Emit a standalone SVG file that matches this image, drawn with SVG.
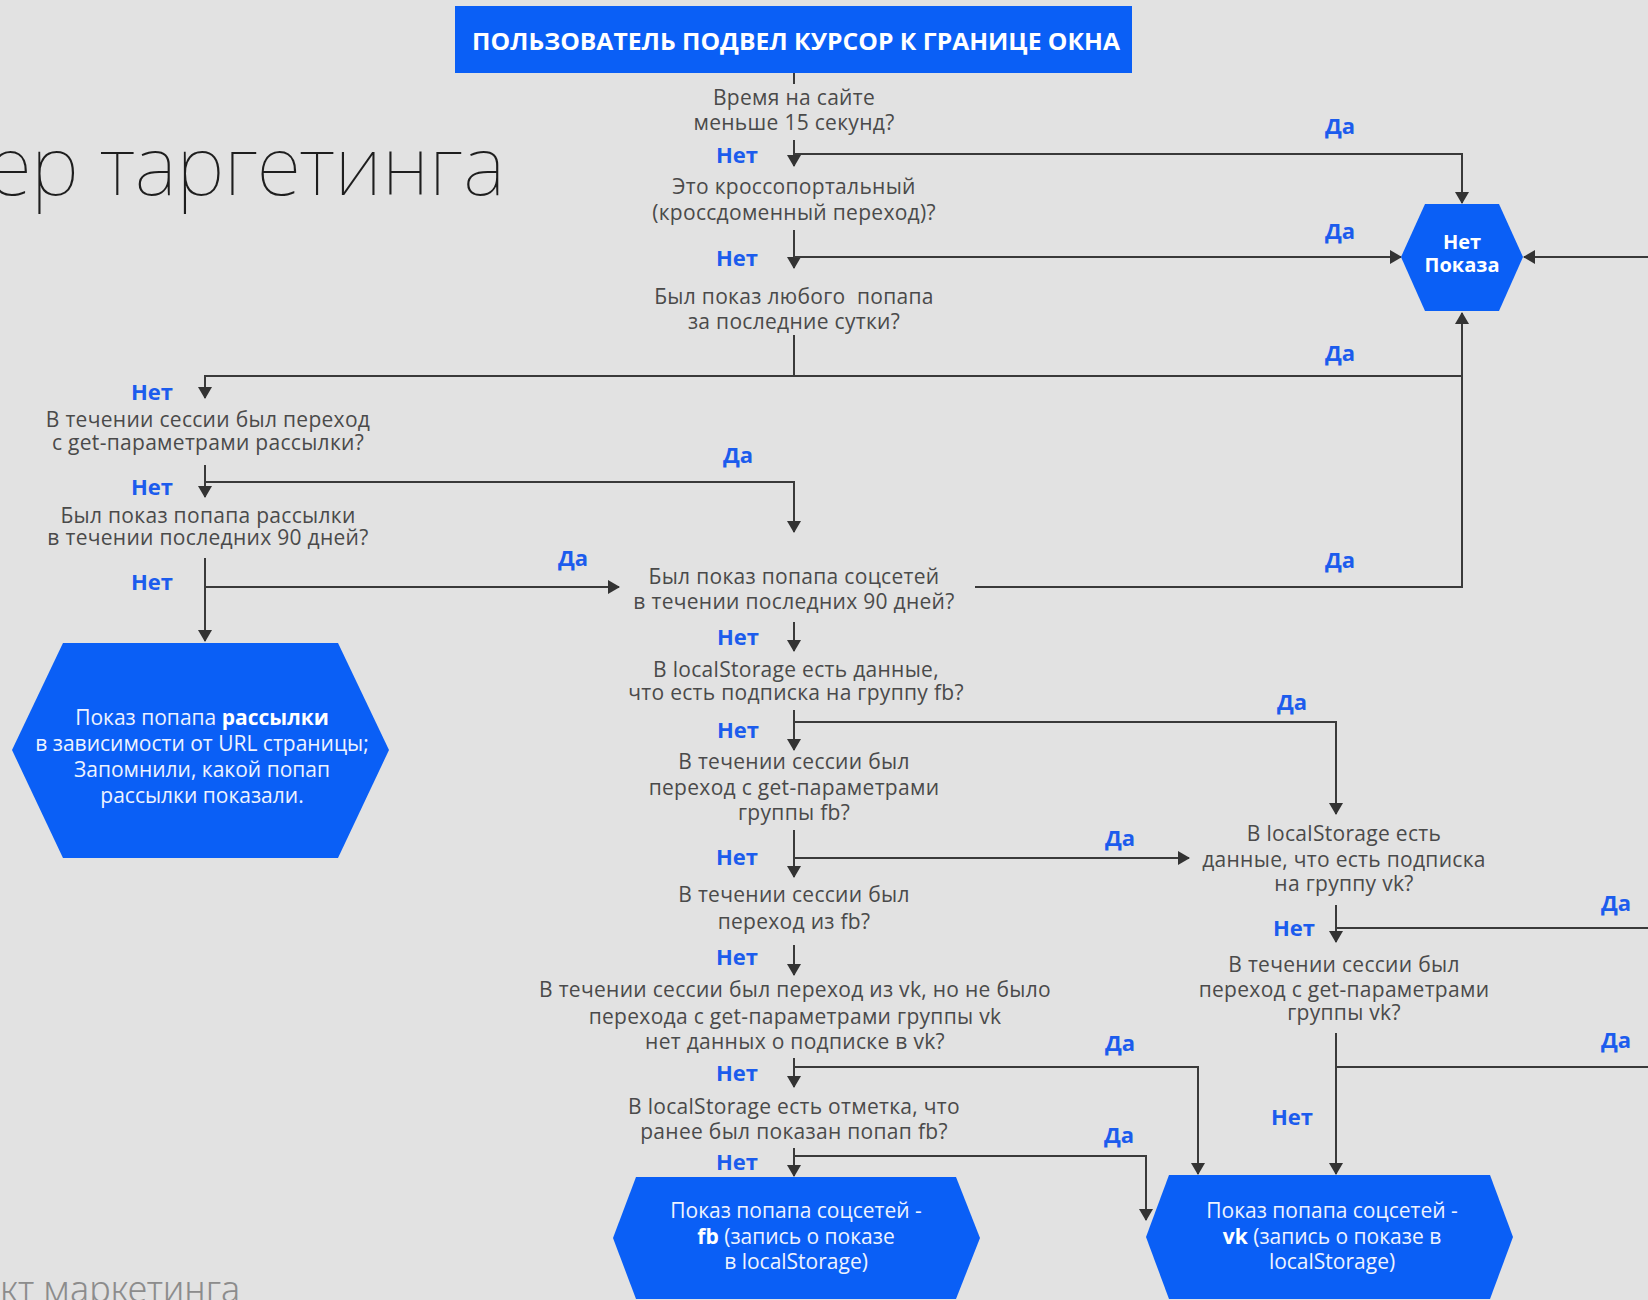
<svg xmlns="http://www.w3.org/2000/svg" width="1648" height="1300" viewBox="0 0 1648 1300">
<defs>
<style>
.bg{fill:#e2e2e2}
.q{font-family:"Open Sans","Liberation Sans",sans-serif;font-size:21px;letter-spacing:0.3px;fill:#4a4a4a;text-anchor:middle}
.lb{font-family:"Open Sans","Liberation Sans",sans-serif;font-weight:700;font-size:22px;fill:#1c5ced;text-anchor:middle}
.w{font-family:"Open Sans","Liberation Sans",sans-serif;font-size:21px;fill:#eef3ff;text-anchor:middle}
.b{font-weight:700;fill:#ffffff}
.hex{fill:#0a5ff6}
.c{fill:none;stroke:#3a3a3a;stroke-width:2}
.a{marker-end:url(#arr)}
</style>
<marker id="arr" viewBox="0 0 12 14" refX="11" refY="7" markerWidth="12" markerHeight="14" orient="auto" markerUnits="userSpaceOnUse">
<path d="M0,0 L12,7 L0,14 Z" fill="#333"/>
</marker>
</defs>
<rect class="bg" x="0" y="0" width="1648" height="1300"/>
<text x="505" y="195" text-anchor="end" style="font-family:'Noto Sans','Open Sans',sans-serif;font-weight:100;font-size:82px;fill:#1e1e1e">ер таргетинга</text>
<text x="0" y="1302" style="font-family:'Noto Sans','Open Sans',sans-serif;font-weight:300;font-size:36px;fill:#8c8c8c">кт маркетинга</text>

<g id="connectors">
<path class="c" d="M794,73 V84"/>
<path class="c a" d="M794,140 V166"/>
<path class="c a" d="M794,154 H1462 V203"/>
<path class="c a" d="M794,230 V268"/>
<path class="c a" d="M794,257 H1401"/>
<path class="c a" d="M794,335 V376 H205 V398"/>
<path class="c a" d="M794,376 H1462 V313"/>
<path class="c a" d="M1648,257 H1524"/>
<path class="c a" d="M205,465 V497"/>
<path class="c a" d="M205,482 H794 V532"/>
<path class="c a" d="M205,558 V641"/>
<path class="c a" d="M205,587 H619"/>
<path class="c" d="M975,587 H1462 V376"/>
<path class="c a" d="M794,622 V651"/>
<path class="c a" d="M794,710 V750"/>
<path class="c a" d="M794,722 H1336 V814"/>
<path class="c a" d="M794,830 V877"/>
<path class="c a" d="M794,858 H1189"/>
<path class="c a" d="M794,945 V975"/>
<path class="c a" d="M794,1058 V1087"/>
<path class="c a" d="M794,1067 H1198 V1174"/>
<path class="c a" d="M794,1148 V1176"/>
<path class="c a" d="M794,1156 H1146 V1220"/>
<path class="c a" d="M1336,905 V942"/>
<path class="c" d="M1336,928 H1648"/>
<path class="c a" d="M1336,1033 V1174"/>
<path class="c" d="M1336,1067 H1648"/>
</g>

<g id="start">
<rect class="hex" x="455" y="6" width="677" height="67"/>
<text x="796" y="50" textLength="648" lengthAdjust="spacingAndGlyphs" style="font-family:'Open Sans','Liberation Sans',sans-serif;font-weight:700;font-size:23px;fill:#fff;text-anchor:middle">ПОЛЬЗОВАТЕЛЬ ПОДВЕЛ КУРСОР К ГРАНИЦЕ ОКНА</text>
</g>

<g id="no-show">
<polygon class="hex" points="1425,204 1499,204 1523,257 1499,311 1425,311 1401,257"/>
<text class="w b" x="1462" y="249" style="font-size:20px">Нет</text>
<text class="w b" x="1462" y="272" style="font-size:20px">Показа</text>
</g>

<g id="q1">
<text class="q" x="794" y="105">Время на сайте</text>
<text class="q" x="794" y="130">меньше 15 секунд?</text>
</g>
<g id="q2">
<text class="q" x="794" y="194">Это кроссопортальный</text>
<text class="q" x="794" y="220">(кроссдоменный переход)?</text>
</g>
<g id="q3">
<text class="q" x="794" y="304" style="white-space:pre">Был показ любого  попапа</text>
<text class="q" x="794" y="329">за последние сутки?</text>
</g>
<g id="q4">
<text class="q" x="208" y="427">В течении сессии был переход</text>
<text class="q" x="208" y="450">с get-параметрами рассылки?</text>
</g>
<g id="q5">
<text class="q" x="208" y="523">Был показ попапа рассылки</text>
<text class="q" x="208" y="545">в течении последних 90 дней?</text>
</g>
<g id="mail-popup">
<polygon class="hex" points="63,643 338,643 389,750 338,858 63,858 12,750"/>
<text class="w" x="202" y="725">Показ попапа <tspan class="b">рассылки</tspan></text>
<text class="w" x="202" y="751">в зависимости от URL страницы;</text>
<text class="w" x="202" y="777">Запомнили, какой попап</text>
<text class="w" x="202" y="803">рассылки показали.</text>
</g>
<g id="q6">
<text class="q" x="794" y="584">Был показ попапа соцсетей</text>
<text class="q" x="794" y="609">в течении последних 90 дней?</text>
</g>
<g id="q7">
<text class="q" x="796" y="677">В localStorage есть данные,</text>
<text class="q" x="796" y="700">что есть подписка на группу fb?</text>
</g>
<g id="q8">
<text class="q" x="794" y="769">В течении сессии был</text>
<text class="q" x="794" y="795">переход с get-параметрами</text>
<text class="q" x="794" y="820">группы fb?</text>
</g>
<g id="q9">
<text class="q" x="794" y="902">В течении сессии был</text>
<text class="q" x="794" y="929">переход из fb?</text>
</g>
<g id="q10">
<text class="q" x="795" y="997">В течении сессии был переход из vk, но не было</text>
<text class="q" x="795" y="1024">перехода с get-параметрами группы vk</text>
<text class="q" x="795" y="1049">нет данных о подписке в vk?</text>
</g>
<g id="q11">
<text class="q" x="794" y="1114">В localStorage есть отметка, что</text>
<text class="q" x="794" y="1139">ранее был показан попап fb?</text>
</g>
<g id="q12">
<text class="q" x="1344" y="841">В localStorage есть</text>
<text class="q" x="1344" y="867">данные, что есть подписка</text>
<text class="q" x="1344" y="891">на группу vk?</text>
</g>
<g id="q13">
<text class="q" x="1344" y="972">В течении сессии был</text>
<text class="q" x="1344" y="997">переход с get-параметрами</text>
<text class="q" x="1344" y="1020">группы vk?</text>
</g>
<g id="fb-popup">
<polygon class="hex" points="636,1177 956,1177 980,1238 956,1299 636,1299 613,1238"/>
<text class="w" x="796" y="1218">Показ попапа соцсетей -</text>
<text class="w" x="796" y="1244"><tspan class="b">fb</tspan> (запись о показе</text>
<text class="w" x="796" y="1269">в localStorage)</text>
</g>
<g id="vk-popup">
<polygon class="hex" points="1169,1175 1490,1175 1513,1237 1490,1299 1169,1299 1146,1237"/>
<text class="w" x="1332" y="1218">Показ попапа соцсетей -</text>
<text class="w" x="1332" y="1244"><tspan class="b">vk</tspan> (запись о показе в</text>
<text class="w" x="1332" y="1269">localStorage)</text>
</g>

<g id="labels">
<text class="lb" x="737" y="163">Нет</text>
<text class="lb" x="737" y="266">Нет</text>
<text class="lb" x="152" y="400">Нет</text>
<text class="lb" x="152" y="495">Нет</text>
<text class="lb" x="152" y="590">Нет</text>
<text class="lb" x="738" y="645">Нет</text>
<text class="lb" x="738" y="738">Нет</text>
<text class="lb" x="737" y="865">Нет</text>
<text class="lb" x="737" y="965">Нет</text>
<text class="lb" x="737" y="1081">Нет</text>
<text class="lb" x="737" y="1170">Нет</text>
<text class="lb" x="1294" y="936">Нет</text>
<text class="lb" x="1292" y="1125">Нет</text>
<text class="lb" x="1340" y="134">Да</text>
<text class="lb" x="1340" y="239">Да</text>
<text class="lb" x="1340" y="361">Да</text>
<text class="lb" x="1340" y="568">Да</text>
<text class="lb" x="738" y="463">Да</text>
<text class="lb" x="573" y="566">Да</text>
<text class="lb" x="1292" y="710">Да</text>
<text class="lb" x="1120" y="846">Да</text>
<text class="lb" x="1616" y="911">Да</text>
<text class="lb" x="1120" y="1051">Да</text>
<text class="lb" x="1616" y="1048">Да</text>
<text class="lb" x="1119" y="1143">Да</text>
</g>
</svg>
